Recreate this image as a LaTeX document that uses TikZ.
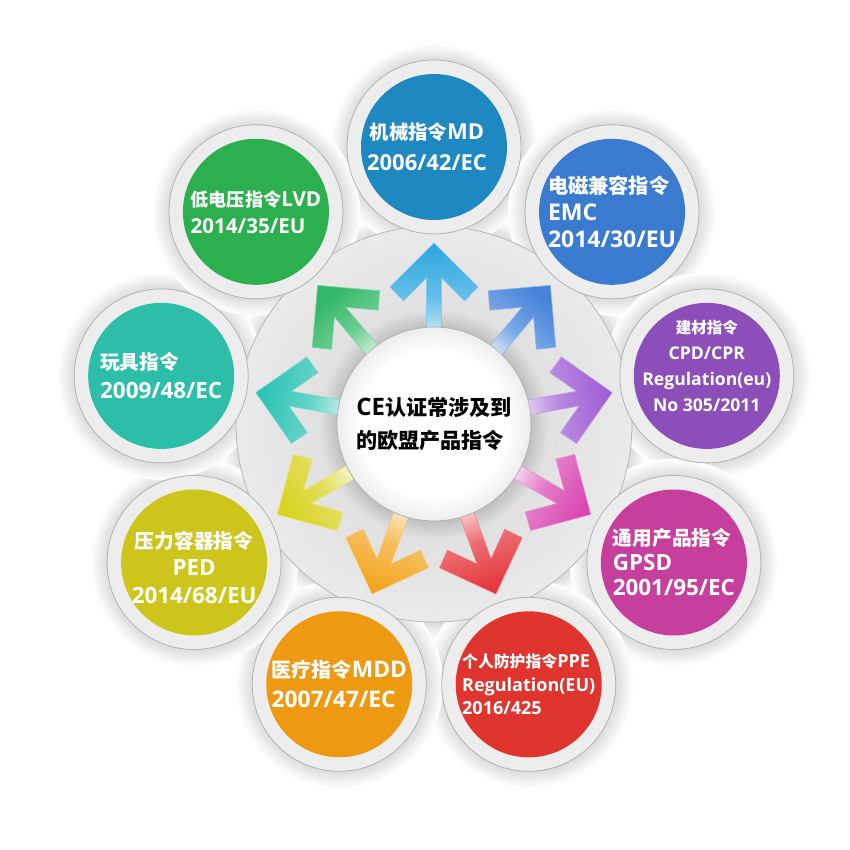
\documentclass[tikz,border=0pt]{standalone}
\usepackage{fontspec}
\setmainfont{Open Sans}
\newfontfamily\cjkfont{Noto Sans CJK SC}[Scale=0.88]
\newcommand\zh[1]{{\cjkfont #1}}
\usetikzlibrary{calc}
\definecolor{mdBlue}{HTML}{1E88C0}
\definecolor{emcBlue}{HTML}{3A7BCF}
\definecolor{cpdPurple}{HTML}{8C4FBA}
\definecolor{gpsdPink}{HTML}{C63F9C}
\definecolor{ppeRed}{HTML}{E0342F}
\definecolor{mddOrange}{HTML}{EE9912}
\definecolor{pedYellow}{HTML}{CDC51B}
\definecolor{toyTeal}{HTML}{2DBEA9}
\definecolor{lvdGreen}{HTML}{2BAF4F}
\definecolor{mdArrow}{HTML}{2BA6E0}
\definecolor{emcArrow}{HTML}{4584DA}
\definecolor{cpdArrow}{HTML}{9D5BD5}
\definecolor{gpsdArrow}{HTML}{D948B2}
\definecolor{ppeArrow}{HTML}{E5343A}
\definecolor{mddArrow}{HTML}{F2A51E}
\definecolor{pedArrow}{HTML}{D8D21F}
\definecolor{toyArrow}{HTML}{28C2B3}
\definecolor{lvdArrow}{HTML}{30B866}
\pgfdeclareradialshading{halo}{\pgfpoint{0bp}{0bp}}{color(0bp)=(black!15); color(20.5bp)=(black!15); color(25bp)=(white); color(50bp)=(white)}
\pgfdeclareradialshading{hubhalo}{\pgfpoint{0bp}{0bp}}{color(0bp)=(black!15); color(23bp)=(black!15); color(25bp)=(white); color(50bp)=(white)}
\pgfdeclareradialshading{hubshade}{\pgfpoint{0bp}{0bp}}{color(0bp)=(black!25); color(12.2bp)=(black!25); color(14.5bp)=(black!12); color(25bp)=(black!8); color(50bp)=(black!8)}
\pgfdeclareradialshading{coreshade}{\pgfpoint{0bp}{0bp}}{color(0bp)=(white); color(19bp)=(white); color(25bp)=(black!7); color(50bp)=(black!7)}
\tikzset{
  hubring/.style={
    circle,
    minimum size=198pt,
    inner sep=0pt,
    shading=hubshade,
    draw=black!28,
    line width=0.4pt
  },
  hubcore/.style={
    circle,
    minimum size=97pt,
    inner sep=0pt,
    shading=coreshade,
    draw=black!30,
    line width=0.4pt
  },
  rim/.style={
    circle,
    minimum size=87pt,
    inner sep=0pt,
    fill=black!7,
    draw=black!30,
    line width=0.4pt
  },
  disc/.style={
    circle,
    minimum size=73pt,
    inner sep=0pt
  },
  tag/.style={
    text=white,
    align=left,
    inner sep=0pt,
    font=\fontsize{11.2}{14.5}\selectfont\bfseries
  },
  smalltag/.style={
    tag,
    font=\fontsize{9}{12}\selectfont\bfseries
  },
  hubtext/.style={
    text=black,
    align=left,
    inner sep=0pt,
    font=\fontsize{12}{16.5}\selectfont\bfseries
  }
}

\begin{document}
\begin{tikzpicture}[x=0.5pt,y=0.5pt]
  \useasboundingbox[fill=white] (-434,-426) rectangle (416,424);

  % soft shadows
  \shade[shading=hubhalo] (0,0) circle (214);
  \foreach \ang in {90,50,10,-30,-70,-110,-150,170,130}
    \shade[shading=halo] (\ang:277) circle (104);

  % hub with arrows
  \node[hubring] (ring) at (0,0) {};
  \foreach \ang/\col [evaluate=\ang as \sang using \ang-90] in {90/mdArrow, 50/emcArrow, 10/cpdArrow, -30/gpsdArrow, -70/ppeArrow, -110/mddArrow, -150/pedArrow, 170/toyArrow, 130/lvdArrow}{
    \begin{scope}[rotate=\ang]
      \shade[bottom color=white, top color=\col, middle color=\col!72!white, shading angle=\sang, draw=\col!60!white, line width=0.3pt]
        (70,7.5) -- (146,7.5) -- (123,30.5) -- (137,44) -- (181,0)
        -- (137,-44) -- (123,-30.5) -- (146,-7.5) -- (70,-7.5) -- cycle;
    \end{scope}
  }
  \node[hubcore] (core) at (0,0) {};
  \node[hubtext] (title) at (core) {CE\zh{认证常涉及到}\\\zh{的欧盟产品指令}};

  % directive circles
  \foreach \ang/\col/\nm in {90/mdBlue/md, 50/emcBlue/emc, 10/cpdPurple/cpd, -30/gpsdPink/gpsd, -70/ppeRed/ppe, -110/mddOrange/mdd, -150/pedYellow/ped, 170/toyTeal/toy, 130/lvdGreen/lvd}{
    \node[rim] (\nm-rim) at (\ang:277) {};
    \node[disc, fill=\col] (\nm) at (\ang:277) {};
  }

  \node[tag, align=center, xshift=-3.5pt, font=\fontsize{11}{15.5}\selectfont\bfseries] (md-txt) at (md) {\zh{机械指令}MD\\2006/42/EC};
  \node[tag, font=\fontsize{11.5}{13.5}\selectfont\bfseries] (emc-txt) at (emc) {\zh{电磁兼容指令}\\EMC\\2014/30/EU};
  \node[smalltag, align=center, yshift=5pt, font=\fontsize{8.8}{13}\selectfont\bfseries] (cpd-txt) at (cpd) {\zh{建材指令}\\CPD/CPR\\Regulation(eu)\\No 305/2011};
  \node[tag, font=\fontsize{11.2}{12.5}\selectfont\bfseries] (gpsd-txt) at (gpsd) {\zh{通用产品指令}\\GPSD\\2001/95/EC};
  \node[smalltag, font=\fontsize{9}{11.8}\selectfont\bfseries] (ppe-txt) at (ppe) {\zh{个人防护指令}PPE\\Regulation(EU)\\2016/425};
  \node[tag, font=\fontsize{11.4}{15}\selectfont\bfseries] (mdd-txt) at (mdd) {\zh{医疗指令}MDD\\2007/47/EC};
  \node[tag, align=center, yshift=-2.5pt, font=\fontsize{11.2}{13.8}\selectfont\bfseries] (ped-txt) at (ped) {\zh{压力容器指令}\\PED\\2014/68/EU};
  \node[tag] (toy-txt) at (toy) {\zh{玩具指令}\\2009/48/EC};
  \node[tag, font=\fontsize{10.3}{13.5}\selectfont\bfseries] (lvd-txt) at (lvd) {\zh{低电压指令}LVD\\2014/35/EU};
\end{tikzpicture}
\end{document}
